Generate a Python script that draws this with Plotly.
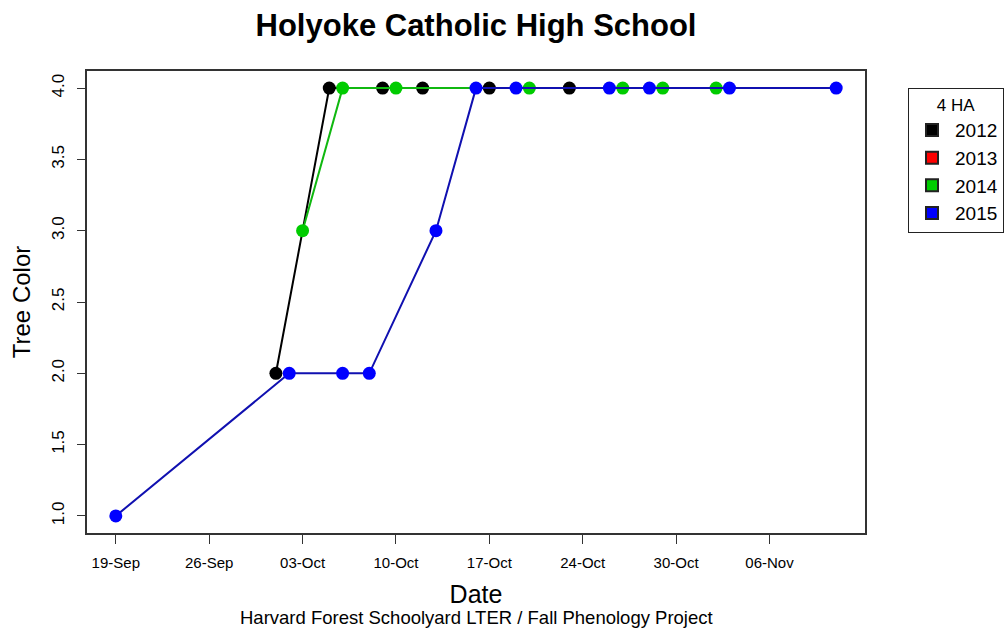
import plotly.graph_objects as go

# days since 19-Sep
tick_days = [0, 7, 14, 21, 28, 35, 42, 49]
tick_labels = ["19-Sep", "26-Sep", "03-Oct", "10-Oct", "17-Oct", "24-Oct", "30-Oct", "06-Nov"]

days_2012 = [12, 16, 20, 23, 28, 34]
color_2012 = [2, 4, 4, 4, 4, 4]

days_2013 = []
color_2013 = []

days_2014 = [14, 17, 21, 31, 38, 41, 45]
color_2014 = [3, 4, 4, 4, 4, 4, 4]

days_2015 = [0, 13, 17, 19, 24, 27, 30, 37, 40, 46, 54]
color_2015 = [1, 2, 2, 2, 3, 4, 4, 4, 4, 4, 4]

years = ["2012", "2013", "2014", "2015"]
series = [(days_2012, color_2012), (days_2013, color_2013), (days_2014, color_2014), (days_2015, color_2015)]
marker_colors = ["#000000", "#FF0000", "#00CC00", "#0000FF"]
line_colors = ["#000000", "#FF0000", "#10B810", "#1010B0"]

fig = go.Figure()
for yr, (xs, ys), mc, lc in zip(years, series, marker_colors, line_colors):
    if xs:
        fig.add_trace(go.Scatter(
            x=xs, y=ys, mode="lines+markers", showlegend=False,
            line=dict(color=lc, width=2),
            marker=dict(color=mc, size=13, line=dict(width=0)),
        ))
for yr, mc in zip(years, marker_colors):
    fig.add_trace(go.Scatter(
        x=[None], y=[None], mode="markers", name=yr,
        marker=dict(symbol="square", color=mc, size=14, line=dict(color="#222222", width=1)),
    ))

font = "Liberation Sans, Arial, sans-serif"
fig.update_layout(
    width=1005, height=628,
    paper_bgcolor="white", plot_bgcolor="white",
    margin=dict(l=87, r=140, t=71, b=95, autoexpand=False),
    font=dict(family=font, color="#000000"),
    title=dict(text="<b>Holyoke Catholic High School</b>", x=476 / 1005, xanchor="center",
               y=1 - 25 / 628, yanchor="middle", font=dict(size=31, family=font)),
    xaxis=dict(range=[-2.16, 56.16], tickmode="array", tickvals=tick_days, ticktext=tick_labels,
               showgrid=False, zeroline=False, showline=True, mirror=True, linecolor="#333333",
               linewidth=1.5, ticks="outside", ticklen=9, tickcolor="#333333",
               ticklabelstandoff=6,
               tickfont=dict(size=15, family=font), title=dict(text="Date", font=dict(size=25), standoff=16)),
    yaxis=dict(range=[0.88, 4.12], tickmode="array", tickvals=[1.0, 1.5, 2.0, 2.5, 3.0, 3.5, 4.0],
               ticktext=["1.0", "1.5", "2.0", "2.5", "3.0", "3.5", "4.0"], tickangle=-90,
               showgrid=False, zeroline=False, showline=True, mirror=True, linecolor="#333333",
               linewidth=1.5, ticks="outside", ticklen=8, tickcolor="#333333",
               ticklabelstandoff=6,
               tickfont=dict(size=17, family=font), title=dict(text="Tree Color", font=dict(size=24), standoff=12)),
    legend=dict(title=dict(text="4 HA", font=dict(size=17), side="top center"),
                x=(908 - 87) / (865 - 87), xref="paper",
                xanchor="left", y=1 - (88 - 71) / 462, yanchor="top",
                bordercolor="#222222", borderwidth=1, bgcolor="white",
                font=dict(size=19, family=font), tracegroupgap=0, itemsizing="constant",
                itemwidth=36),
    annotations=[dict(text="Harvard Forest Schoolyard LTER / Fall Phenology Project",
                      xref="paper", yref="paper", x=0.5, y=-(617 - 533) / 462,
                      xanchor="center", yanchor="middle", showarrow=False,
                      font=dict(size=18.5, family=font))],
)
fig.write_html("out.html", post_script="document.body.style.margin='0';",
               config={"displayModeBar": False})
